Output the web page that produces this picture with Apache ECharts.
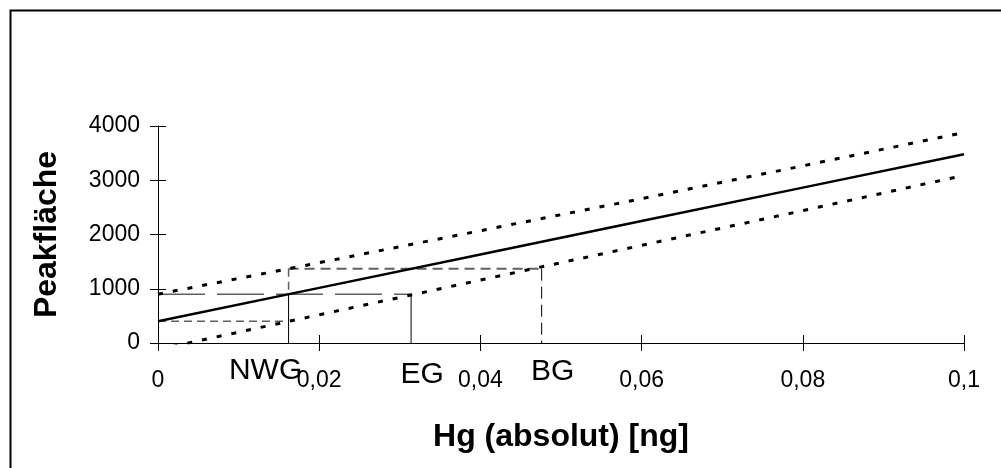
<!DOCTYPE html>
<html>
<head>
<meta charset="utf-8">
<script src="https://cdn.jsdelivr.net/npm/echarts@6/dist/echarts.min.js"></script>
<style>
html,body{margin:0;padding:0;background:#fff;}
#chart{width:1001px;height:468px;}
</style>
</head>
<body>
<div id="chart"></div>
<script>
// ---- data ----
const xValues = [0, 0.02, 0.04, 0.06, 0.08, 0.1];
const regression = [400, 1016, 1632, 2248, 2864, 3480];
const upperBand = [900, 1480, 2070, 2660, 3265, 3880];
const lowerBand = [-120, 520, 1160, 1800, 2440, 3090];
const xTickLabels = ['0', '0,02', '0,04', '0,06', '0,08', '0,1'];
const yTickLabels = ['0', '1000', '2000', '3000', '4000'];
const NWG = 0.0162;
const EG = 0.0314;
const BG = 0.0476;
const yCrit = 900;
const yIntercept = 400;
const yBG = 1370;
const markNames = ['NWG', 'EG', 'BG'];
const markX = [NWG, EG, BG];

const FONT = 'Liberation Sans, Arial, sans-serif';
const pairs = arr => xValues.map((x, i) => [x, arr[i]]);

function seg(points, color, width, type) {
  return {
    type: 'line', data: points, symbol: 'none', silent: true,
    lineStyle: { color: color, width: width, type: type }, z: 2
  };
}

const chart = echarts.init(document.getElementById('chart'), null, { renderer: 'canvas' });
const labelOffsets = [[-23, 13], [11, 17], [11, 14]];

const option = {
  animation: false,
  backgroundColor: '#ffffff',
  grid: { left: 158, right: 37, top: 126, bottom: 125 },
  graphic: [{
    type: 'rect', left: 8, top: 8,
    shape: { width: 1100, height: 600 },
    style: { fill: 'none', stroke: '#000', lineWidth: 2 }
  }],
  xAxis: [{
    type: 'value', min: 0, max: 0.1, interval: 0.02,
    axisLine: { lineStyle: { color: '#000', width: 1 } },
    axisTick: { length: 8, lineStyle: { color: '#000' } },
    splitLine: { show: false },
    axisLabel: {
      margin: 26, fontSize: 23, color: '#000', fontFamily: FONT,
      formatter: v => xTickLabels[Math.round(v / 0.02)]
    },
    name: 'Hg (absolut) [ng]', nameLocation: 'middle', nameGap: 78,
    nameTextStyle: { fontSize: 32, fontWeight: 'bold', color: '#000', fontFamily: FONT }
  }, {
    type: 'value', min: 0, max: 0.1, interval: 0.02, position: 'bottom',
    axisLine: { show: false },
    axisTick: { inside: true, length: 8, lineStyle: { color: '#000' } },
    axisLabel: { show: false }, splitLine: { show: false }
  }],
  yAxis: [{
    type: 'value', min: 0, max: 4000, interval: 1000,
    axisLine: { show: true, lineStyle: { color: '#000', width: 1 } },
    axisTick: { show: true, length: 8, lineStyle: { color: '#000' } },
    splitLine: { show: false },
    axisLabel: {
      margin: 18, fontSize: 23, color: '#000', fontFamily: FONT,
      formatter: v => yTickLabels[Math.round(v / 1000)]
    },
    name: 'Peakfläche', nameLocation: 'middle', nameGap: 95,
    nameTextStyle: { fontSize: 32, fontWeight: 'bold', color: '#000', fontFamily: FONT }
  }, {
    type: 'value', min: 0, max: 4000, interval: 1000, position: 'left',
    axisLine: { show: false },
    axisTick: { show: true, inside: true, length: 8, lineStyle: { color: '#000' } },
    axisLabel: { show: false }, splitLine: { show: false }
  }],
  series: [
    // reference construction lines
    seg([[0, yCrit], [EG, yCrit]], '#606060', 1.6, [47, 12]),
    seg([[0, yIntercept], [NWG, yIntercept]], '#606060', 1.5, [8, 5]),
    seg([[NWG, yBG], [NWG, yCrit]], '#606060', 1.5, [8, 5]),
    seg([[NWG, yCrit], [NWG, 0]], '#000', 1, 'solid'),
    seg([[NWG, yBG], [BG, yBG]], '#606060', 2, [10, 6]),
    seg([[BG, yBG], [BG, 0]], '#000', 1, [12, 6]),
    seg([[EG, yCrit], [EG, 0]], '#000', 1, 'solid'),
    // regression & confidence bands
    { type: 'line', data: pairs(upperBand), symbol: 'none', silent: true, z: 3,
      lineStyle: { color: '#000', width: 3, type: [5, 10] } },
    { type: 'line', data: pairs(lowerBand), symbol: 'none', silent: true, z: 3,
      lineStyle: { color: '#000', width: 3, type: [5, 10] } },
    { type: 'line', data: pairs(regression), symbol: 'none', silent: true, z: 4,
      lineStyle: { color: '#000', width: 2.5 } },
    // NWG / EG / BG labels
    { type: 'scatter', symbolSize: 0, silent: true, z: 5,
      itemStyle: { opacity: 1, color: '#000' },
      data: markNames.map((n, i) => ({
        value: [markX[i], 0, n],
        label: { offset: labelOffsets[i] }
      })),
      label: { show: true, position: 'bottom', distance: 0, formatter: p => p.data.value[2],
        fontSize: 30, color: '#000', opacity: 1, textBorderWidth: 0, fontFamily: FONT } }
  ]
};
chart.setOption(option);
</script>
</body>
</html>
